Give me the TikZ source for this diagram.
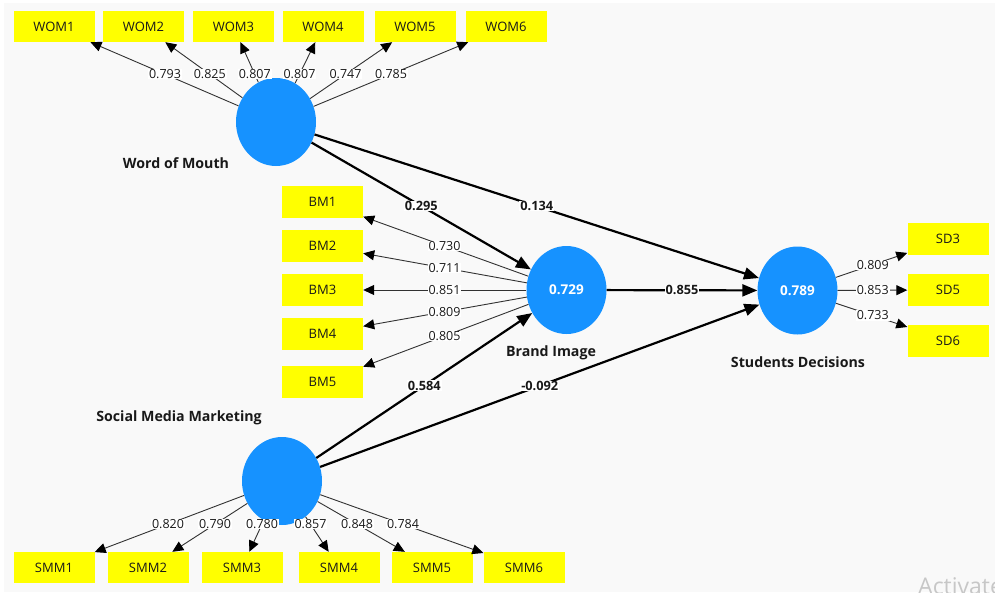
\documentclass[tikz,border=0pt]{standalone}
\usepackage{fontspec}
\setmainfont{Open Sans}
\usetikzlibrary{shapes.geometric,arrows.meta}
\definecolor{bgc}{RGB}{249,249,249}
\definecolor{lvblue}{RGB}{22,146,255}
\definecolor{ind}{RGB}{255,255,0}
\definecolor{loadc}{RGB}{50,50,50}
\tikzset{
  lv/.style={ellipse, fill=lvblue, minimum width=80pt, minimum height=88pt, inner sep=0pt,
    text=white, font=\fontsize{13.5}{15}\selectfont\bfseries},
  mv/.style={rectangle, fill=ind, minimum width=81pt, minimum height=31pt, inner sep=0pt,
    text=black!90, font=\fontsize{13}{15}\selectfont},
  lvname/.style={text=black!90, font=\fontsize{14.2}{16}\selectfont\bfseries},
  load/.style={draw=loadc, line width=0.9pt, -{Triangle[length=11pt,width=10pt,color=black]}},
  path/.style={draw=black, line width=2.2pt, -{Triangle[length=15pt,width=12pt]}},
  lbl/.style={fill=white, inner xsep=1pt, inner ysep=0.5pt, text=black!90,
    font=\fontsize{12.5}{14}\selectfont},
  plbl/.style={lbl, font=\fontsize{12.8}{14}\selectfont\bfseries},
}
\begin{document}
\begin{tikzpicture}[x=1pt,y=-1pt]
\useasboundingbox (0,0) rectangle (995,597);
\fill[bgc] (4,3) rectangle (995,592);
\begin{scope}
  \clip (4,3) rectangle (995,592);
  \node[anchor=base west, inner sep=0pt, text=black!22, font=\fontsize{23}{25}\selectfont] (wm) at (918,594) {Activate};
\end{scope}

% latent variables
\node[lv] (wom) at (276,122) {};
\node[lv] (bi) at (566.5,290) {0.729};
\node[lv] (sd) at (797.5,290.5) {0.789};
\node[lv] (smm) at (282,481) {};

\node[lvname] (nwom) at (176,163) {Word of Mouth};
\node[lvname] (nbi) at (551,353) {Brand Image};
\node[lvname] (nsd) at (798,362) {Students Decisions};
\node[lvname] (nsmm) at (179,418) {Social Media Marketing};

% indicators
\node[mv] (w1) at (54,26.5) {WOM1};
\node[mv] (w2) at (143.5,26.5) {WOM2};
\node[mv] (w3) at (233.5,26.5) {WOM3};
\node[mv] (w4) at (323,26.5) {WOM4};
\node[mv] (w5) at (415,26.5) {WOM5};
\node[mv] (w6) at (506,26.5) {WOM6};

\node[mv, minimum height=32pt] (b1) at (322.5,202) {BM1};
\node[mv, minimum height=32pt] (b2) at (322.5,246) {BM2};
\node[mv, minimum height=32pt] (b3) at (322.5,290) {BM3};
\node[mv, minimum height=32pt] (b4) at (322.5,333.5) {BM4};
\node[mv, minimum height=32pt] (b5) at (322.5,382) {BM5};

\node[mv, minimum height=32pt] (s3) at (948,239) {SD3};
\node[mv, minimum height=32pt] (s5) at (948,290) {SD5};
\node[mv, minimum height=32pt] (s6) at (948,340.5) {SD6};

\node[mv] (m1) at (54,567.5) {SMM1};
\node[mv] (m2) at (148,567.5) {SMM2};
\node[mv] (m3) at (242,567.5) {SMM3};
\node[mv] (m4) at (339,567.5) {SMM4};
\node[mv] (m5) at (432,567.5) {SMM5};
\node[mv] (m6) at (524,567.5) {SMM6};

% loadings
\foreach \a/\b in {wom/w1,wom/w2,wom/w3,wom/w4,wom/w5,wom/w6,
                   bi/b1,bi/b2,bi/b3,bi/b4,bi/b5,
                   sd/s3,sd/s5,sd/s6,
                   smm/m1,smm/m2,smm/m3,smm/m4,smm/m5,smm/m6}
  \draw[load] (\a) -- (\b);

% structural paths
\draw[path] (wom) -- (bi);
\draw[path] (wom) -- (sd);
\draw[path] (bi) -- (sd);
\draw[path] (smm) -- (bi);
\draw[path] (smm) -- (sd);

% loading labels
\path (wom.center) -- (w1.center) node[lbl,midway] (lw1) {0.793};
\path (wom.center) -- (w2.center) node[lbl,midway] (lw2) {0.825};
\path (wom.center) -- (w3.center) node[lbl,midway] (lw3) {0.807};
\path (wom.center) -- (w4.center) node[lbl,midway] (lw4) {0.807};
\path (wom.center) -- (w5.center) node[lbl,midway] (lw5) {0.747};
\path (wom.center) -- (w6.center) node[lbl,midway] (lw6) {0.785};

\path (bi.center) -- (b1.center) node[lbl,midway] (lb1) {0.730};
\path (bi.center) -- (b2.center) node[lbl,midway] (lb2) {0.711};
\path (bi.center) -- (b3.center) node[lbl,midway] (lb3) {0.851};
\path (bi.center) -- (b4.center) node[lbl,midway] (lb4) {0.809};
\path (bi.center) -- (b5.center) node[lbl,midway] (lb5) {0.805};

\path (sd.center) -- (s3.center) node[lbl,midway] (ls3) {0.809};
\path (sd.center) -- (s5.center) node[lbl,midway] (ls5) {0.853};
\path (sd.center) -- (s6.center) node[lbl,midway] (ls6) {0.733};

\path (smm.center) -- (m1.center) node[lbl,midway] (lm1) {0.820};
\path (smm.center) -- (m2.center) node[lbl,midway] (lm2) {0.790};
\path (smm.center) -- (m3.center) node[lbl,midway] (lm3) {0.780};
\path (smm.center) -- (m4.center) node[lbl,midway] (lm4) {0.857};
\path (smm.center) -- (m5.center) node[lbl,midway] (lm5) {0.848};
\path (smm.center) -- (m6.center) node[lbl,midway] (lm6) {0.784};

% path labels
\path (wom.center) -- (bi.center) node[plbl,midway] (p1) {0.295};
\path (wom.center) -- (sd.center) node[plbl,midway] (p2) {0.134};
\path (bi.center) -- (sd.center) node[plbl,midway] (p3) {0.855};
\path (smm.center) -- (bi.center) node[plbl,midway] (p4) {0.584};
\path (smm.center) -- (sd.center) node[plbl,midway] (p5) {-0.092};
\end{tikzpicture}
\end{document}
